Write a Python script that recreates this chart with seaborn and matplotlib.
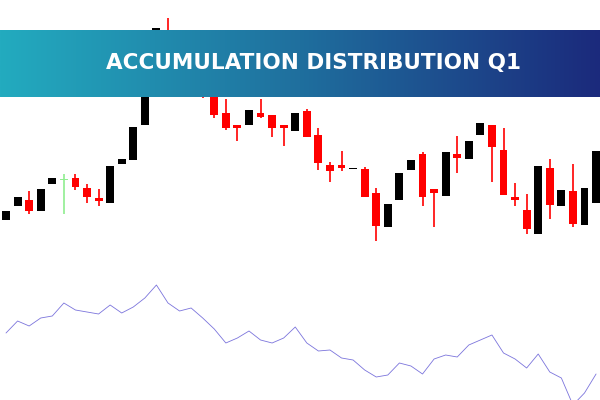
import numpy as np
import matplotlib
matplotlib.use("Agg")
import matplotlib.pyplot as plt
import seaborn as sns
import pandas as pd
from matplotlib.colors import LinearSegmentedColormap

# candle levels in chart units (higher = lower on screen, chart is inverted)
body_top = [211,197,200,189,178,179,178,188,198,166,159,127,40,28,30,50,55,60,95,113,125,110,113,115,125,113,111,135,165,165,168,169,193,204,173,160,154,189,152,154,141,123,125,150,197,210,166,168,190,191,188,151]
body_bot = [220,206,211,211,184,180,187,197,201,203,164,160,125,60,60,75,70,95,115,128,128,125,117,128,128,131,137,163,171,168,169,197,226,227,200,170,197,193,196,158,159,135,147,195,200,229,234,205,206,224,225,203]
wick_hi = [211,197,191,189,178,174,174,184,189,166,159,127,40,28,18,45,50,55,90,99,125,110,99,115,125,113,109,128,162,151,168,167,188,204,173,160,152,189,152,136,141,123,125,128,183,194,166,159,190,164,188,151]
wick_lo = [220,206,214,211,184,214,190,203,206,203,164,160,125,60,65,80,72,98,118,130,141,125,118,137,146,131,137,170,182,171,169,197,241,227,200,170,206,227,196,173,159,135,182,195,206,234,234,219,206,227,225,203]
kind = list("bbrbbgrrrbbbbbrrbrrrrbrrrbrrrrbrrbbbrrbrbbrrrrbrbrbb")
ad_line = [333,321,326,318,316,303,310,312,314,305,313,307,298,285,303,311,308,318,329,343,338,331,340,343,338,327,343,351,350,358,360,370,377,375,363,366,374,359,355,357,345,340,335,353,359,368,354,372,378,405,393,374]
title = "ACCUMULATION DISTRIBUTION Q1"

sns.set_style("white")
fig = plt.figure(figsize=(6, 4), dpi=100)
ax = fig.add_axes([0, 0, 1, 1])
n = len(kind)
idx = np.arange(n)
colors = {"b": "black", "r": "#ff0000", "g": "#90ee90"}
for i in range(n):
    c = colors[kind[i]]
    ax.vlines(i, wick_hi[i], wick_lo[i], color=c, lw=1.2, zorder=2)
    h = max(body_bot[i] - body_top[i], 1)
    ax.bar(i, h, bottom=body_top[i], width=0.68, color=c, zorder=3, linewidth=0)
df = pd.DataFrame({"i": idx, "ad": ad_line})
sns.lineplot(data=df, x="i", y="ad", ax=ax, color="#7b74dc", lw=0.6, zorder=2)
ax.set_xlim(-0.52, 51.34)
ax.set_ylim(400, 0)
ax.axis("off")

# banner
bax = fig.add_axes([0, 1 - 97/400, 1, 67/400])
grad = np.linspace(0, 1, 256)[None, :]
cm = LinearSegmentedColormap.from_list("b", ["#23abbf", "#1f6f9e", "#1b2a7c"])
bax.imshow(grad, aspect="auto", cmap=cm, extent=[0, 1, 0, 1])
bax.set_xlim(0, 1); bax.set_ylim(0, 1)
bax.axis("off")
bax.text(0.523, 0.5, title, color="white", fontsize=15.5, fontweight="bold",
         ha="center", va="center", family=["DejaVu Sans"])
fig.savefig("out.png", dpi=100)
